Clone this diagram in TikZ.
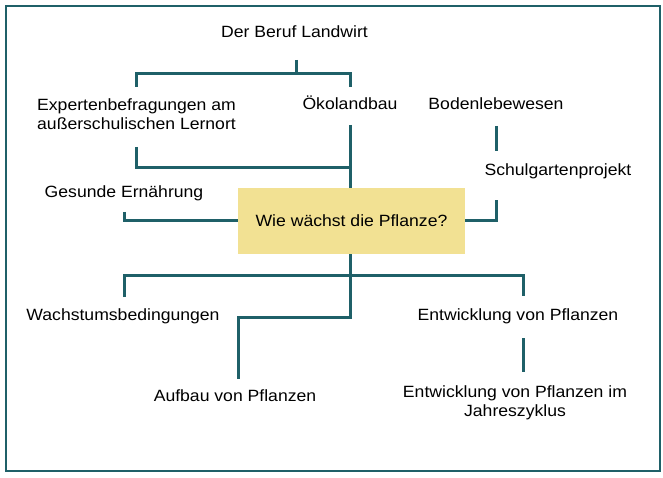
\documentclass[tikz,border=0pt]{standalone}
\usepackage{fontspec}
\setmainfont{Liberation Sans}[FakeStretch=1.08]
\definecolor{astgruen}{HTML}{1F6068}
\definecolor{kasten}{HTML}{F2E193}
\tikzstyle{ast}=[draw=astgruen, line width=3pt]
\tikzstyle{thema}=[inner sep=0, font=\fontsize{16.3}{19}\selectfont, align=center, anchor=base]
\tikzstyle{frage}=[fill=kasten, minimum width=227pt, minimum height=66pt, inner sep=0, font=\fontsize{16.3}{19}\selectfont]

\begin{document}
\begin{tikzpicture}[x=1pt,y=-1pt]
\useasboundingbox (0,0) rectangle (663,478);
\draw[draw=astgruen, line width=1.2pt] (6,6) rectangle (660,471);

% Themen
\node[thema] (beruf) at (294.5,38) {Der Beruf Landwirt};
\node[thema, align=left, anchor=base west] (experten) at (37,130) {Expertenbefragungen am\\au\ss erschulischen Lernort};
\node[thema] (oeko) at (350,110) {Ökolandbau};
\node[thema] (boden) at (496,110) {Bodenlebewesen};
\node[thema] (garten) at (558,176) {Schulgartenprojekt};
\node[thema] (gesund) at (124,198) {Gesunde Ernährung};
\node[frage] (frage) at (351.5,221) {Wie wächst die Pflanze?};
\node[thema] (wachstum) at (123,320) {Wachstumsbedingungen};
\node[thema] (entw) at (518,320) {Entwicklung von Pflanzen};
\node[thema] (aufbau) at (235,401) {Aufbau von Pflanzen};
\node[thema] (jahr) at (515,416) {Entwicklung von Pflanzen im\\Jahreszyklus};

% freie Enden
\coordinate (beruf-e) at (296,60);
\coordinate (exp-o) at (136,87);
\coordinate (oeko-o) at (350,87);
\coordinate (oeko-u) at (350,125);
\coordinate (exp-u) at (136,147);
\coordinate (boden-u) at (496,126);
\coordinate (garten-o) at (496,151);
\coordinate (garten-u) at (496,200);
\coordinate (gesund-u) at (124,212);
\coordinate (wachstum-o) at (124,297);
\coordinate (entw-o) at (523,296);
\coordinate (entw-u) at (523,338);
\coordinate (jahr-o) at (523,372);
\coordinate (aufbau-o) at (238,379);

% oben
\draw[ast] (beruf-e) -- (296,74);
\draw[ast] (exp-o) |- (oeko-o |- 0,74) -- (oeko-o);
\draw[ast] (oeko-u) -- (frage.north -| oeko-u);
\draw[ast] (exp-u) |- (oeko-u |- 0,168);
\draw[ast] (boden-u) -- (garten-o);

% seitlich
\draw[ast] (gesund-u) |- (frage.west);
\draw[ast] (frage.east) -| (garten-u);

% unten
\draw[ast] (frage.south -| oeko-u) -- (350,317) -| (aufbau-o);
\draw[ast] (wachstum-o) |- (entw-o |- 0,275) -- (entw-o);
\draw[ast] (entw-u) -- (jahr-o);

\end{tikzpicture}
\end{document}
